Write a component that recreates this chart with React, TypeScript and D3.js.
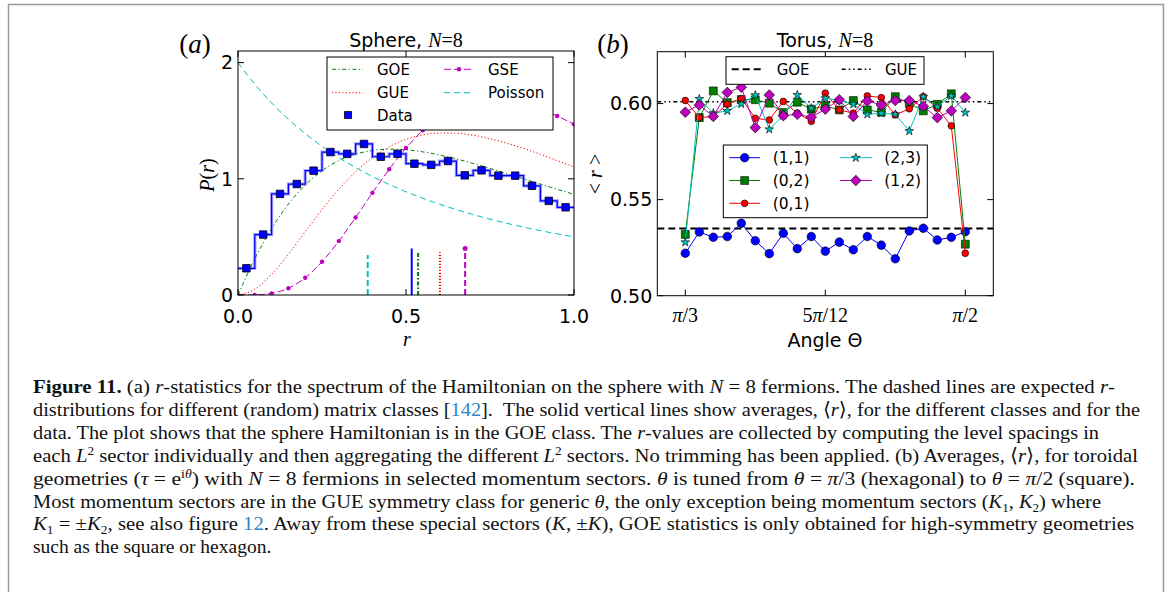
import React from 'react';
import * as d3 from 'd3';

// ---------- Panel (a) data ----------
const binCenters = [0.025, 0.075, 0.125, 0.175, 0.225, 0.275, 0.325, 0.375, 0.425, 0.475, 0.525, 0.575, 0.625, 0.675, 0.725, 0.775, 0.825, 0.875, 0.925, 0.975];
const dataP = [0.23, 0.52, 0.87, 0.955, 1.07, 1.23, 1.215, 1.30, 1.19, 1.215, 1.13, 1.12, 1.153, 1.03, 1.073, 1.027, 1.027, 0.94, 0.81, 0.755];
const rGrid = [0, 0.05, 0.1, 0.15, 0.2, 0.25, 0.3, 0.35, 0.4, 0.45, 0.5, 0.55, 0.6, 0.65, 0.7, 0.75, 0.8, 0.85, 0.9, 0.95, 1.0];
const goeP = [0, 0.312, 0.572, 0.782, 0.946, 1.069, 1.156, 1.212, 1.244, 1.255, 1.250, 1.232, 1.205, 1.171, 1.132, 1.089, 1.045, 1.000, 0.955, 0.910, 0.866];
const gueP = [0, 0.050, 0.178, 0.352, 0.544, 0.735, 0.910, 1.060, 1.182, 1.275, 1.339, 1.378, 1.394, 1.392, 1.375, 1.345, 1.306, 1.261, 1.211, 1.157, 1.103];
const gseP = [0, 0.001, 0.014, 0.058, 0.148, 0.286, 0.464, 0.667, 0.879, 1.082, 1.265, 1.418, 1.536, 1.619, 1.668, 1.685, 1.677, 1.648, 1.601, 1.540, 1.470];
const poissonP = [2.0, 1.814, 1.653, 1.512, 1.389, 1.280, 1.183, 1.097, 1.020, 0.951, 0.889, 0.833, 0.781, 0.735, 0.692, 0.653, 0.617, 0.584, 0.554, 0.526, 0.500];
const meanNames = ['Poisson', 'Data', 'GOE', 'GUE', 'GSE'];
const meanR = [0.386, 0.517, 0.536, 0.601, 0.676];
const meanHeight = [0.344, 0.40, 0.367, 0.367, 0.40];
const xTicksA = [0, 0.5, 1.0];
const xTickLabelsA = ['0.0', '0.5', '1.0'];
const yTicksA = [0, 1, 2];
const yTickLabelsA = ['0', '1', '2'];

// ---------- Panel (b) data ----------
const thetaDeg = [60, 61.5, 63, 64.5, 66, 67.5, 69, 70.5, 72, 73.5, 75, 76.5, 78, 79.5, 81, 82.5, 84, 85.5, 87, 88.5, 90];
const r11 = [0.5221, 0.5332, 0.5304, 0.5308, 0.5377, 0.5286, 0.5219, 0.5325, 0.5245, 0.5308, 0.5232, 0.5279, 0.5239, 0.5308, 0.5263, 0.5192, 0.5337, 0.5351, 0.5290, 0.5304, 0.5333];
const r02 = [0.5319, 0.5927, 0.6066, 0.6005, 0.6021, 0.6020, 0.6002, 0.5953, 0.6007, 0.5971, 0.5988, 0.5967, 0.6016, 0.5967, 0.5955, 0.6036, 0.6001, 0.5962, 0.5996, 0.6051, 0.5268];
const r01 = [0.6016, 0.5927, 0.5933, 0.5997, 0.6026, 0.5923, 0.5915, 0.6011, 0.5950, 0.5908, 0.6054, 0.5967, 0.5950, 0.6040, 0.6031, 0.5941, 0.5973, 0.6036, 0.5976, 0.5884, 0.5221];
const r23 = [0.5278, 0.6024, 0.5950, 0.5962, 0.5998, 0.6044, 0.5866, 0.5938, 0.6045, 0.5976, 0.6028, 0.6016, 0.5997, 0.5944, 0.5950, 0.5944, 0.5857, 0.6036, 0.5984, 0.6040, 0.5953];
const r12 = [0.5955, 0.5993, 0.5933, 0.6058, 0.6085, 0.5875, 0.6045, 0.5937, 0.5944, 0.5929, 0.5971, 0.6020, 0.5933, 0.6014, 0.5993, 0.6016, 0.6016, 0.5986, 0.5927, 0.5962, 0.6031];
const sectorNames = ['(1,1)', '(0,2)', '(0,1)', '(2,3)', '(1,2)'];
const goeLevel = 0.535;
const gueLevel = 0.601;
const xTicksB = [60, 75, 90];
const yTicksB = [0.5, 0.55, 0.6];
const yTickLabelsB = ['0.50', '0.55', '0.60'];

// ---------- Caption ----------
type Seg = [string, string?];
const captionLines: Seg[][] = [
  [['Figure 11.', 'b'], [' (a) '], ['r', 'i'], ['-statistics for the spectrum of the Hamiltonian on the sphere with '], ['N', 'i'], [' = 8 fermions. The dashed lines are expected '], ['r', 'i'], ['-']],
  [['distributions for different (random) matrix classes ['], ['142', 'l'], ['].  The solid vertical lines show averages, \u27E8'], ['r', 'i'], ['\u27E9, for the different classes and for the']],
  [['data. The plot shows that the sphere Hamiltonian is in the GOE class. The '], ['r', 'i'], ['-values are collected by computing the level spacings in']],
  [['each '], ['L', 'i'], ['2', 'sup'], [' sector individually and then aggregating the different '], ['L', 'i'], ['2', 'sup'], [' sectors. No trimming has been applied. (b) Averages, \u27E8'], ['r', 'i'], ['\u27E9, for toroidal']],
  [['geometries ('], ['\u03C4', 'i'], [' = e'], ['i', 'sup'], ['\u03B8', 'isup'], [') with '], ['N', 'i'], [' = 8 fermions in selected momentum sectors. '], ['\u03B8', 'i'], [' is tuned from '], ['\u03B8', 'i'], [' = '], ['\u03C0', 'i'], ['/3 (hexagonal) to '], ['\u03B8', 'i'], [' = '], ['\u03C0', 'i'], ['/2 (square).']],
  [['Most momentum sectors are in the GUE symmetry class for generic '], ['\u03B8', 'i'], [', the only exception being momentum sectors ('], ['K', 'i'], ['1', 'sub'], [', '], ['K', 'i'], ['2', 'sub'], [') where']],
  [['K', 'i'], ['1', 'sub'], [' = \u00B1'], ['K', 'i'], ['2', 'sub'], [', see also figure '], ['12', 'l'], ['. Away from these special sectors ('], ['K', 'i'], [', \u00B1'], ['K', 'i'], ['), GOE statistics is only obtained for high-symmetry geometries']],
  [['such as the square or hexagon.']],
];
const captionRight = [1115, 1140, 1099, 1138, 1135, 1101, 1134, 0];

const SANS = 'DejaVu Sans, Verdana, sans-serif';
const SERIF = 'Liberation Serif, DejaVu Serif, serif';

const C_B = '#0000ff', C_G = '#008000', C_R = '#ff0000', C_C = '#00bfbf', C_M = '#bf00bf';

function sym(type: any, size: number) {
  return d3.symbol().type(type).size(size)() as string;
}

function CaptionLine({ segs, y, right }: { segs: Seg[]; y: number; right: number }) {
  let cur = 0;
  const children = segs.map((s, k) => {
    const kind = s[1] || 'n';
    let target = 0;
    if (kind === 'sup' || kind === 'isup') target = -7;
    if (kind === 'sub') target = 4;
    const dy = target - cur;
    cur = target;
    const props: any = {};
    if (kind === 'b') props.fontWeight = 'bold';
    if (kind === 'i' || kind === 'isup') props.fontStyle = 'italic';
    if (kind === 'l') props.fill = '#2f86c8';
    if (kind === 'sup' || kind === 'isup' || kind === 'sub') props.fontSize = 12.5;
    return (
      <tspan key={k} dy={dy || undefined} {...props}>{s[0]}</tspan>
    );
  });
  const extra: any = {};
  if (right > 0) {
    extra.textLength = right - 33;
    extra.lengthAdjust = 'spacingAndGlyphs';
  }
  return (
    <text x={33} y={y} fontFamily={SERIF} fontSize={19.5} fill="#111" style={{ whiteSpace: 'pre' }} {...extra}>
      {children}
    </text>
  );
}

export default function App() {
  // ---------- scales panel (a) ----------
  const A = { l: 238, r: 574, t: 51, b: 295 };
  const xA = d3.scaleLinear().domain([0, 1]).range([A.l, A.r]);
  const yA = d3.scaleLinear().domain([0, 2.1]).range([A.b, A.t]);
  const curveA = (vals: number[]) =>
    d3.line<number>().x((_, i) => xA(rGrid[i])).y((d) => yA(d)).curve(d3.curveMonotoneX)(vals) as string;

  const hw = (binCenters[1] - binCenters[0]) / 2;
  const stepPts: [number, number][] = binCenters.map((c, i) => [c - hw, dataP[i]] as [number, number]);
  stepPts.push([binCenters[binCenters.length - 1] + hw, dataP[dataP.length - 1]]);
  const stepPath = d3.line<[number, number]>().x((d) => xA(d[0])).y((d) => yA(d[1])).curve(d3.curveStepAfter)(stepPts) as string;

  const meanStyle: Record<string, any> = {
    Poisson: { stroke: C_C, dash: '6,3' },
    Data: { stroke: C_B, dash: undefined },
    GOE: { stroke: C_G, dash: '4,2,1.5,2' },
    GUE: { stroke: C_R, dash: '1.2,1.8' },
    GSE: { stroke: C_M, dash: '6,3' },
  };

  // ---------- scales panel (b) ----------
  const B = { l: 657.3, r: 993.3, t: 51.7, b: 295.7 };
  const xB = d3.scaleLinear().domain([57, 93]).range([B.l, B.r]);
  const yB = d3.scaleLinear().domain([0.5, 0.627]).range([B.b, B.t]);
  const lineB = (vals: number[]) =>
    d3.line<number>().x((_, i) => xB(thetaDeg[i])).y((d) => yB(d))(vals) as string;

  const series = [
    { name: sectorNames[0], vals: r11, color: C_B, shape: d3.symbolCircle, size: 58, rot: 0 },
    { name: sectorNames[1], vals: r02, color: C_G, shape: d3.symbolSquare, size: 62, rot: 0 },
    { name: sectorNames[2], vals: r01, color: C_R, shape: d3.symbolCircle, size: 36, rot: 0 },
    { name: sectorNames[3], vals: r23, color: C_C, shape: d3.symbolStar, size: 24, rot: 0 },
    { name: sectorNames[4], vals: r12, color: C_M, shape: d3.symbolSquare, size: 56, rot: 45 },
  ];

  const tickLen = 6;
  const fsTick = 19;

  const xTickLabelB = (i: number, x: number) => {
    const y = 322;
    if (i === 0)
      return (<text key={i} x={x} y={y} textAnchor="middle" fontFamily={SERIF} fontSize={20}><tspan fontStyle="italic">π</tspan>/3</text>);
    if (i === 1)
      return (<text key={i} x={x} y={y} textAnchor="middle" fontFamily={SERIF} fontSize={20}>5<tspan fontStyle="italic">π</tspan>/12</text>);
    return (<text key={i} x={x} y={y} textAnchor="middle" fontFamily={SERIF} fontSize={20}><tspan fontStyle="italic">π</tspan>/2</text>);
  };

  return (
    <svg width={1171} height={592} style={{ position: 'absolute', left: 0, top: 0, background: '#fff' }} xmlns="http://www.w3.org/2000/svg">
      <rect x={0} y={0} width={1171} height={592} fill="#fff" />
      <rect x={8.5} y={4.5} width={1155} height={640} fill="none" stroke="#9a9a9a" strokeWidth={1.5} />
      <defs>
        <clipPath id="clipA"><rect x={A.l} y={A.t} width={A.r - A.l} height={A.b - A.t} /></clipPath>
        <clipPath id="clipB"><rect x={B.l} y={B.t} width={B.r - B.l} height={B.b - B.t} /></clipPath>
      </defs>

      {/* ================= Panel (a) ================= */}
      <text x={195} y={53} textAnchor="middle" fontFamily={SERIF} fontSize={27}>(<tspan fontStyle="italic">a</tspan>)</text>
      <text x={406} y={46.5} textAnchor="middle" fontSize={19}>
        <tspan fontFamily={SANS}>Sphere, </tspan>
        <tspan fontFamily={SERIF} fontStyle="italic" fontSize={20}>N</tspan>
        <tspan fontFamily={SERIF} fontSize={20}>=8</tspan>
      </text>

      <g clipPath="url(#clipA)">
        <path d={curveA(goeP)} fill="none" stroke={C_G} strokeWidth={1} strokeDasharray="4,2.5,1.2,2.5" />
        <path d={curveA(gueP)} fill="none" stroke={C_R} strokeWidth={1} strokeDasharray="1.2,2.2" />
        <path d={curveA(poissonP)} fill="none" stroke={C_C} strokeWidth={1} strokeDasharray="6,4" />
        <path d={curveA(gseP)} fill="none" stroke={C_M} strokeWidth={1} strokeDasharray="7,3" />
        {gseP.map((v, i) => (
          <circle key={i} cx={xA(rGrid[i])} cy={yA(v)} r={2.2} fill={C_M} />
        ))}
        <path d={stepPath} fill="none" stroke="#5a5aff" strokeOpacity={0.55} strokeWidth={3.2} />
        <path d={stepPath} fill="none" stroke={C_B} strokeWidth={1.2} />
        {binCenters.map((c, i) => (
          <path key={i} d={sym(d3.symbolSquare, 56)} transform={`translate(${xA(c)},${yA(dataP[i])})`} fill={C_B} stroke="#000" strokeWidth={0.8} />
        ))}
        {meanNames.map((n, i) => (
          <line key={n} x1={xA(meanR[i])} x2={xA(meanR[i])} y1={yA(0)} y2={yA(meanHeight[i])} stroke={meanStyle[n].stroke} strokeWidth={2} strokeDasharray={meanStyle[n].dash} />
        ))}
        <circle cx={xA(meanR[4])} cy={yA(meanHeight[4])} r={2.5} fill={C_M} />
      </g>

      {/* frame + ticks (a) */}
      <rect x={A.l} y={A.t} width={A.r - A.l} height={A.b - A.t} fill="none" stroke="#000" strokeWidth={1} />
      {xTicksA.map((t, i) => (
        <g key={'xa' + i}>
          <line x1={xA(t)} x2={xA(t)} y1={A.b} y2={A.b - tickLen} stroke="#000" />
          <line x1={xA(t)} x2={xA(t)} y1={A.t} y2={A.t + tickLen} stroke="#000" />
          <text x={xA(t)} y={322.5} textAnchor="middle" fontFamily={SANS} fontSize={fsTick}>{xTickLabelsA[i]}</text>
        </g>
      ))}
      {yTicksA.map((t, i) => (
        <g key={'ya' + i}>
          <line x1={A.l} x2={A.l + tickLen} y1={yA(t)} y2={yA(t)} stroke="#000" />
          <line x1={A.r} x2={A.r - tickLen} y1={yA(t)} y2={yA(t)} stroke="#000" />
          <text x={A.l - 5} y={yA(t) + 0.36 * fsTick} textAnchor="end" fontFamily={SANS} fontSize={fsTick}>{yTickLabelsA[i]}</text>
        </g>
      ))}
      <text x={407} y={346} textAnchor="middle" fontFamily={SERIF} fontStyle="italic" fontSize={20}>r</text>
      <text transform="translate(214,175) rotate(-90)" textAnchor="middle" fontFamily={SERIF} fontSize={20}>
        <tspan fontStyle="italic">P</tspan>(<tspan fontStyle="italic">r</tspan>)
      </text>

      {/* legend (a) */}
      <g>
        <rect x={327} y={57} width={226} height={73} fill="#fff" stroke="#000" strokeWidth={1} />
        <line x1={332} x2={363} y1={69.3} y2={69.3} stroke={C_G} strokeDasharray="4,2.5,1.2,2.5" />
        <text x={377} y={74.8} fontFamily={SANS} fontSize={15}>GOE</text>
        <line x1={332} x2={363} y1={92.7} y2={92.7} stroke={C_R} strokeDasharray="1.2,2.2" />
        <text x={377} y={98.2} fontFamily={SANS} fontSize={15}>GUE</text>
        <path d={sym(d3.symbolSquare, 50)} transform="translate(348,115)" fill={C_B} stroke="#000" strokeWidth={0.8} />
        <text x={377} y={120.5} fontFamily={SANS} fontSize={15}>Data</text>
        <line x1={444} x2={474} y1={69.3} y2={69.3} stroke={C_M} strokeDasharray="7,3" />
        <circle cx={459} cy={69.3} r={2.2} fill={C_M} />
        <text x={488} y={74.8} fontFamily={SANS} fontSize={15}>GSE</text>
        <line x1={444} x2={474} y1={92.7} y2={92.7} stroke={C_C} strokeDasharray="6,4" />
        <text x={488} y={98.2} fontFamily={SANS} fontSize={15}>Poisson</text>
      </g>

      {/* ================= Panel (b) ================= */}
      <text x={613} y={53} textAnchor="middle" fontFamily={SERIF} fontSize={27}>(<tspan fontStyle="italic">b</tspan>)</text>
      <text x={825} y={46.5} textAnchor="middle" fontSize={19}>
        <tspan fontFamily={SANS}>Torus, </tspan>
        <tspan fontFamily={SERIF} fontStyle="italic" fontSize={20}>N</tspan>
        <tspan fontFamily={SERIF} fontSize={20}>=8</tspan>
      </text>

      <g clipPath="url(#clipB)">
        <line x1={B.l} x2={B.r} y1={yB(goeLevel)} y2={yB(goeLevel)} stroke="#000" strokeWidth={2} strokeDasharray="7,4" />
        <line x1={B.l} x2={B.r} y1={yB(gueLevel)} y2={yB(gueLevel)} stroke="#000" strokeWidth={1.5} strokeDasharray="4,3,1.5,3,1.5,3" />
      </g>
      {series.map((s) => (
        <g key={s.name}>
          <path d={lineB(s.vals)} fill="none" stroke={s.color} strokeWidth={1} />
          {s.vals.map((v, i) => (
            <path key={i} d={sym(s.shape, s.size)} transform={`translate(${xB(thetaDeg[i])},${yB(v)}) rotate(${s.rot})`} fill={s.color} stroke="#000" strokeWidth={0.6} />
          ))}
        </g>
      ))}

      {/* frame + ticks (b) */}
      <rect x={B.l} y={B.t} width={B.r - B.l} height={B.b - B.t} fill="none" stroke="#000" strokeWidth={1} />
      {xTicksB.map((t, i) => (
        <g key={'xb' + i}>
          <line x1={xB(t)} x2={xB(t)} y1={B.b} y2={B.b - tickLen} stroke="#000" />
          <line x1={xB(t)} x2={xB(t)} y1={B.t} y2={B.t + tickLen} stroke="#000" />
          {xTickLabelB(i, xB(t))}
        </g>
      ))}
      {yTicksB.map((t, i) => (
        <g key={'yb' + i}>
          <line x1={B.l} x2={B.l + tickLen} y1={yB(t)} y2={yB(t)} stroke="#000" />
          <line x1={B.r} x2={B.r - tickLen} y1={yB(t)} y2={yB(t)} stroke="#000" />
          <text x={B.l - 5} y={yB(t) + 0.36 * fsTick} textAnchor="end" fontFamily={SANS} fontSize={fsTick}>{yTickLabelsB[i]}</text>
        </g>
      ))}
      <text x={825} y={347} textAnchor="middle" fontFamily={SANS} fontSize={19}>Angle Θ</text>
      <text transform="translate(602,174) rotate(-90)" textAnchor="middle" fontFamily={SERIF} fontSize={20} style={{ whiteSpace: 'pre' }}>
        {'< '}<tspan fontStyle="italic">r</tspan>{' >'}
      </text>

      {/* legend (b) upper */}
      <g>
        <rect x={726} y={56.7} width={198} height={27.6} fill="#fff" stroke="#000" strokeWidth={1} />
        <line x1={731.7} x2={761.7} y1={69.3} y2={69.3} stroke="#000" strokeWidth={2} strokeDasharray="7,4" />
        <text x={776.7} y={74.8} fontFamily={SANS} fontSize={15}>GOE</text>
        <line x1={841.7} x2={871.7} y1={69.3} y2={69.3} stroke="#000" strokeWidth={1.5} strokeDasharray="4,3,1.5,3,1.5,3" />
        <text x={885} y={74.8} fontFamily={SANS} fontSize={15}>GUE</text>
      </g>

      {/* legend (b) lower */}
      <g>
        <rect x={723.3} y={145} width={204} height={72.7} fill="#fff" stroke="#000" strokeWidth={1} />
        {series.map((s, k) => {
          const col = k < 3 ? 0 : 1;
          const row = k < 3 ? k : k - 3;
          const x1 = col === 0 ? 729.3 : 840;
          const x2 = col === 0 ? 760 : 871.7;
          const tx = col === 0 ? 772.7 : 884.3;
          const y = 157.7 + row * 22.8;
          return (
            <g key={'lg' + k}>
              <line x1={x1} x2={x2} y1={y} y2={y} stroke={s.color} strokeWidth={1} />
              <path d={sym(s.shape, s.size)} transform={`translate(${(x1 + x2) / 2},${y}) rotate(${s.rot})`} fill={s.color} stroke="#000" strokeWidth={0.6} />
              <text x={tx} y={y + 5.5} fontFamily={SANS} fontSize={15.5}>{s.name}</text>
            </g>
          );
        })}
      </g>

      {/* ================= Caption ================= */}
      {captionLines.map((segs, i) => (
        <CaptionLine key={i} segs={segs} y={393 + i * 22.9} right={captionRight[i]} />
      ))}
    </svg>
  );
}
